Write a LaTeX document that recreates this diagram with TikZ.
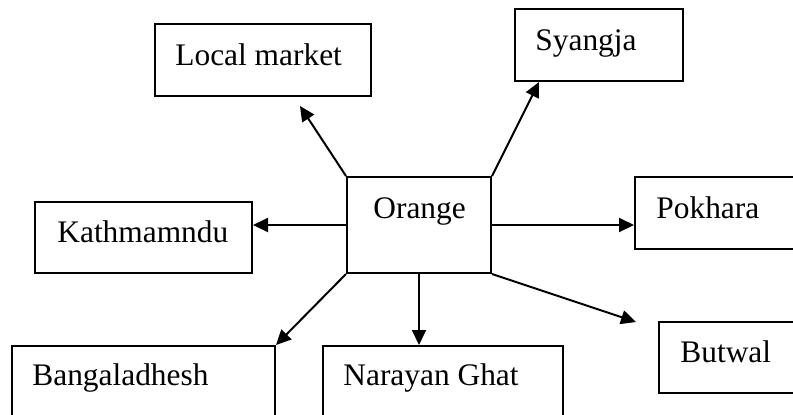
\documentclass[tikz,border=0pt]{standalone}
\usepackage{fontspec}
\setmainfont{Liberation Serif}
\usepackage{tikz}
\usetikzlibrary{calc,positioning,arrows.meta}
\tikzset{
  place/.style={rectangle, draw=black, line width=1pt, inner sep=0pt},
  lbl/.style={anchor=base west, inner sep=0pt, font=\fontsize{15.7}{19}\selectfont},
  link/.style={draw, line width=1pt, -{Triangle[length=7.5pt,width=7pt]}},
}
\begin{document}
\begin{tikzpicture}[x=0.5pt,y=-0.5pt]
    \useasboundingbox (0,0) rectangle (793,414);
    \clip (0,0) rectangle (793,414);

    \node[place,minimum width=72pt,minimum height=48pt] (orange) at (419,225) {};
    \node[place,minimum width=108pt,minimum height=36pt] (local) at (263,60) {};
    \node[place,minimum width=84pt,minimum height=36pt] (syangja) at (599,45) {};
    \node[place,minimum width=108.5pt,minimum height=35.5pt] (kath) at (143.5,237.5) {};
    \node[place,minimum width=97.5pt,minimum height=36pt] (pokhara) at (732.5,213) {};
    \node[place,minimum width=85.5pt,minimum height=35.5pt] (butwal) at (744.5,357.5) {};
    \node[place,minimum width=131.5pt,minimum height=47pt] (bangla) at (143.5,393) {};
    \node[place,minimum width=120pt,minimum height=47pt] (narayan) at (443,393) {};

    \node[lbl] (orangetxt) at (373,218) {Orange};
    \node[lbl] (localtxt) at (175,65) {Local market};
    \node[lbl] (syangjatxt) at (535,50) {Syangja};
    \node[lbl] (kathtxt) at (57,242) {Kathmamndu};
    \node[lbl] (pokharatxt) at (656,218) {Pokhara};
    \node[lbl] (butwaltxt) at (680,362) {Butwal};
    \node[lbl] (banglatxt) at (32,385) {Bangaladhesh};
    \node[lbl] (narayantxt) at (343,385) {Narayan Ghat};

    % free arrow ends
    \coordinate (tolocal) at (300,106);
    \coordinate (tosyangja) at (539,82);
    \coordinate (tobutwal) at (636,322);

    \begin{scope} [every path/.style=link]
      \path (orange.north west) -- (tolocal);
      \path (orange.north east) -- (tosyangja);
      \path (orange.west) -- (orange.west -| kath.east);
      \path (orange.east) -- (orange.east -| pokhara.west);
      \path (orange.south west) -- (bangla.north east);
      \path (orange.south) -- (orange.south |- narayan.north);
      \path (orange.south east) -- (tobutwal);
    \end{scope}

  \end{tikzpicture}
\end{document}
